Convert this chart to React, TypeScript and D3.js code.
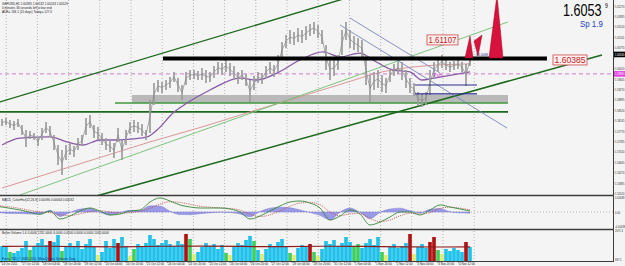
import { useEffect, useRef } from 'react';
import * as d3 from 'd3';

const W = 625;
const H = 266;
const FONT = '"Liberation Sans", Arial, sans-serif';

// GBPUSD H1 bars (one entry ~ 3 hours)
const priceHigh = [
  1.5821, 1.5824, 1.5817, 1.5813, 1.5821, 1.5799, 1.5781, 1.5777, 1.5770, 1.5756,
  1.5788, 1.5810, 1.5795, 1.5763, 1.5727, 1.5709, 1.5727, 1.5734, 1.5723, 1.5752,
  1.5763, 1.5824, 1.5835, 1.5799, 1.5792, 1.5770, 1.5752, 1.5745, 1.5734, 1.5788,
  1.5745, 1.5781, 1.5810, 1.5817, 1.5810, 1.5803, 1.5781, 1.5889, 1.5950, 1.5961,
  1.5954, 1.5961, 1.5972, 1.5990, 1.5968, 1.5943, 1.5990, 1.5997, 1.5997, 1.5993,
  1.6004, 1.5997, 1.5990, 1.6011, 1.6026, 1.6022, 1.6033, 1.6022, 1.6011, 1.5990,
  1.5997, 1.5983, 1.5961, 1.5975, 1.5990, 1.5986, 1.6011, 1.6026, 1.6015, 1.6051,
  1.6098, 1.6123, 1.6141, 1.6134, 1.6148, 1.6141, 1.6155, 1.6163, 1.6170, 1.6159,
  1.6141, 1.6087, 1.6040, 1.6033, 1.6051, 1.6141, 1.6170, 1.6141, 1.6119, 1.6112,
  1.6105, 1.6051, 1.5979, 1.5990, 1.5997, 1.5979, 1.5968, 1.6004, 1.6019, 1.6026,
  1.6026, 1.5997, 1.5968, 1.5950, 1.5918, 1.5911, 1.5918, 1.5997, 1.6026, 1.6040,
  1.6051, 1.6033, 1.6026, 1.6029, 1.6033, 1.6026, 1.6019, 1.6055,
];
const priceLow = [
  1.5795, 1.5799, 1.5788, 1.5781, 1.5792, 1.5763, 1.5720, 1.5749, 1.5745, 1.5723,
  1.5745, 1.5770, 1.5756, 1.5709, 1.5655, 1.5619, 1.5673, 1.5691, 1.5684, 1.5709,
  1.5723, 1.5763, 1.5788, 1.5752, 1.5745, 1.5727, 1.5709, 1.5702, 1.5680, 1.5738,
  1.5673, 1.5727, 1.5767, 1.5774, 1.5770, 1.5759, 1.5745, 1.5770, 1.5871, 1.5918,
  1.5914, 1.5925, 1.5932, 1.5954, 1.5918, 1.5889, 1.5943, 1.5961, 1.5965, 1.5961,
  1.5961, 1.5950, 1.5954, 1.5968, 1.5983, 1.5979, 1.5990, 1.5975, 1.5961, 1.5947,
  1.5961, 1.5939, 1.5882, 1.5925, 1.5950, 1.5947, 1.5968, 1.5983, 1.5972, 1.5990,
  1.6040, 1.6076, 1.6091, 1.6087, 1.6098, 1.6094, 1.6105, 1.6119, 1.6127, 1.6112,
  1.6091, 1.5997, 1.5961, 1.5975, 1.5997, 1.6051, 1.6105, 1.6076, 1.6069, 1.6062,
  1.6044, 1.5943, 1.5882, 1.5925, 1.5932, 1.5918, 1.5914, 1.5954, 1.5975, 1.5983,
  1.5961, 1.5932, 1.5914, 1.5903, 1.5867, 1.5864, 1.5871, 1.5907, 1.5968, 1.5990,
  1.6004, 1.5997, 1.5990, 1.5997, 1.6001, 1.5990, 1.5939, 1.6011,
];

const volume = [
  1312, 1264, 1027, 980, 1075, 1217, 1549, 1122, 1312, 1454,
  1644, 1359, 1549, 1502, 1834, 1075, 1312, 1454, 1264, 1549,
  1170, 1407, 1644, 1264, 885, 1027, 1549, 1217, 1644, 1454,
  1739, 1312, 837, 1170, 1407, 1264, 1454, 1834, 1644, 1359,
  1454, 1597, 1407, 1312, 1549, 1407, 1881, 1644, 932, 1027,
  1264, 1454, 1312, 1407, 1170, 1359, 980, 885, 1264, 1454,
  1359, 1597, 1787, 1549, 1122, 932, 1170, 1407, 1264, 1502,
  1644, 1312, 980, 885, 1217, 1359, 1264, 1407, 1027, 837,
  1170, 1549, 1407, 1597, 1312, 1454, 1739, 1502, 1312, 1407,
  1217, 1454, 1644, 1359, 1739, 1027, 885, 1264, 1407, 1217,
  1312, 1454, 1881, 932, 1264, 1407, 1217, 1502, 1739, 1122,
  932, 1170, 1075, 1217, 1122, 1027, 1502, 1264,
];
const volumeKind =
  'ccgccccgcc' + 'ccrccgcccc' + 'ccccyccccr' + 'ccygcccccc' + 'ccccccrgyc' +
  'ccccccgycc' + 'cccgcycccc' + 'ccgycccrgy' + 'ccccccccgg' + 'cccccgyccc' +
  'ccrycccrrg' + 'ycccccrc';
const volumeMaSlots = [0, 10, 20, 30, 40, 50, 60, 70, 80, 90, 100, 110, 117];
const volumeMa = [1290, 1300, 1280, 1270, 1300, 1310, 1290, 1280, 1300, 1290, 1270, 1265, 1270];

const macdMain = [
  0.00166, 0.00116, 0.00063, -0.00009, -0.00072, 0.00031, -0.00219, -0.00125, 0.00031, 0.00125,
  0.00031, -0.00094, -0.00063, 0.00031, 0.00063, 0.00313, 0.00438, 0.00344, 0.00219, 0.00156,
  0.00125, 0.00125, 0.00125, 0.00094, 0, -0.00219, -0.00125, 0.00031, 0.00188, 0.00313,
  0.00344, 0.00281, 0.00125, -0.0025, -0.00125, 0.00063, -0.00063, -0.00406, -0.00313, -0.00156,
  0, 0, -0.00094, 0.00063, 0.00219, 0.00156, 0.00094, 0.00031,
];
const macdSignal = [
  0.0019, 0.0016, 0.0011, 0.0005, 0.0, -0.0002, -0.0008, -0.0011, -0.0006, 0.0001,
  0.0004, 0.0, -0.0004, -0.0002, 0.0002, 0.0012, 0.0025, 0.0032, 0.003, 0.0024,
  0.0018, 0.0015, 0.0013, 0.0011, 0.0006, -0.0007, -0.0014, -0.0009, 0.0004, 0.0018,
  0.0028, 0.003, 0.0023, 0.0, -0.0012, -0.0006, -0.0005, -0.002, -0.003, -0.0025,
  -0.0012, -0.0004, -0.0006, -0.0002, 0.0011, 0.0015, 0.0012, 0.0007,
];

// moving averages as [slot, price]
const maSlow: [number, number][] = [
  [0, 1.5572], [12, 1.5626], [25, 1.5684], [37, 1.5738], [50, 1.5792], [62, 1.5846],
  [75, 1.5903], [85, 1.5947], [95, 1.599], [105, 1.6011], [117, 1.6019],
];
const maFast: [number, number][] = [
  [0, 1.5727], [4.5, 1.5752], [12, 1.5756], [16.25, 1.5738], [20.25, 1.5727], [24.5, 1.5745],
  [28.75, 1.5745], [32.75, 1.5749], [36.25, 1.5756], [38.75, 1.5781], [42.75, 1.5842],
  [46.25, 1.5878], [52, 1.5925], [59.5, 1.5968], [63.75, 1.5961], [68.75, 1.5986],
  [74.5, 1.6033], [80.25, 1.6062], [84.5, 1.6044], [89.5, 1.6058], [92.75, 1.6033],
  [97.75, 1.5997], [102, 1.599], [105, 1.5961], [108, 1.5968], [117, 1.599],
];

// drawn objects
const channelUpper: [number, number][] = [[-0.5, 1.5882], [90, 1.6273]];
const channelLower: [number, number][] = [[20, 1.5529], [150, 1.6051]];
const supportThin: [number, number][] = [[4.5, 1.5547], [126.5, 1.617]];
const trendBlueA: [number, number][] = [[84.5, 1.6159], [126.25, 1.5788]];
const trendBlueB: [number, number][] = [[87, 1.6184], [109.5, 1.5986]];
const zoneBand = { from: 32.5, to: 126.5, top: 1.5907, bottom: 1.5878 };
const zoneLine = { from: 28.25, to: 126.5, price: 1.5878 };
const supportLevel = { from: -0.5, to: 126.5, price: 1.5846 };
const resistLevel = { from: 40.25, to: 136.25, price: 1.60385 };
const pivotLevel = { from: -1, to: 153, price: 1.5983 };
const navyLevels = [1.5943, 1.5911];
const navyRange = [103.25, 118.75];
const fractalShapes: [number, number][][] = [
  [[115.75, 1.604], [117, 1.6119], [117.75, 1.604]],
  [[118, 1.6101], [120, 1.6123], [119, 1.6047]],
  [[121.75, 1.604], [123.75, 1.6267], [125.25, 1.604]],
];
const levelLabels = [
  { text: '1.61107', price: 1.61107, from: 106.25, to: 114 },
  { text: '1.60385', price: 1.60385, from: 137.75, to: 146.25 },
];

const bid = 1.6053;
const priceTicks = [
  1.6227, 1.61895, 1.6152, 1.61145, 1.6077, 1.60395, 1.6002, 1.59645, 1.5927, 1.58895,
  1.5852, 1.58145, 1.5777, 1.57395, 1.5702, 1.56645, 1.5627, 1.55895, 1.5552,
];
const macdTicks = [0.00438, 0, -0.00438];
const volumeTicks = [2071.3, 687.1];
const timeLabels = [
  '14 Oct 2011', '17 Oct 12:00', '18 Oct 04:00', '18 Oct 20:00', '19 Oct 12:00', '20 Oct 04:00',
  '20 Oct 20:00', '21 Oct 12:00', '24 Oct 04:00', '24 Oct 20:00', '25 Oct 12:00', '26 Oct 04:00',
  '26 Oct 20:00', '27 Oct 12:00', '28 Oct 04:00', '28 Oct 20:00', '31 Oct 12:00', '1 Nov 04:00',
  '1 Nov 20:00', '2 Nov 12:00', '3 Nov 04:00', '3 Nov 20:00', '4 Nov 12:00',
];
const infoLines = [
  'GBPUSD,H1  1.60385 1.60532 1.60163 1.60529',
  '0 minutes 36 seconds left to bar end',
  'ADR= 184.1  (20 days)  Today= 127.0',
];

const volumeColors: Record<string, string> = {
  c: '#1fc2ec', g: '#3fcf5c', y: '#e4ea70', r: '#b01212',
};

function addText(g: any, x: number, y: number, txt: string, size: number, fill: string,
  anchor = 'start', sx = 0.75) {
  return g.append('text')
    .attr('transform', `translate(${x},${y}) scale(${sx},1)`)
    .attr('font-size', size)
    .attr('font-family', FONT)
    .attr('fill', fill)
    .attr('text-anchor', anchor)
    .text(txt);
}

export default function App() {
  const ref = useRef<SVGSVGElement>(null);

  useEffect(() => {
    document.body.style.margin = '0';
    const svg = d3.select(ref.current);
    svg.selectAll('*').remove();

    const axisX = 613;
    const mainBottom = 195;

    const xs = d3.scaleLinear().domain([0, priceHigh.length - 1]).range([2, 470]);
    const xh = d3.scaleLinear().domain([0, 362]).range([1, 471.6]);
    const xm = d3.scaleLinear().domain([0, macdMain.length - 1]).range([0, 470]);
    const yP = d3.scaleLinear().domain([1.5547, 1.6249]).range([mainBottom, 0]);
    const yM = d3.scaleLinear().domain([-0.005, 0.005]).range([228, 196]);
    const yV = d3.scaleLinear().domain([600, 2071.3]).range([261, 230]);

    svg.append('rect').attr('width', W).attr('height', H).attr('fill', '#f4f4f4');

    // daily grid
    svg.append('g')
      .selectAll('line')
      .data(d3.range(4, 365, 24))
      .join('line')
      .attr('x1', d => xh(d)).attr('x2', d => xh(d))
      .attr('y1', 0).attr('y2', 261)
      .attr('stroke', '#9a9a9a')
      .attr('stroke-width', 0.7)
      .attr('stroke-dasharray', '1,2');

    svg.append('clipPath').attr('id', 'mainClip')
      .append('rect').attr('width', axisX).attr('height', mainBottom);
    const main = svg.append('g').attr('clip-path', 'url(#mainClip)');

    const seg = d3.line<[number, number]>().x(d => xs(d[0])).y(d => yP(d[1]));

    main.append('rect')
      .attr('x', xs(zoneBand.from)).attr('width', xs(zoneBand.to) - xs(zoneBand.from))
      .attr('y', yP(zoneBand.top)).attr('height', yP(zoneBand.bottom) - yP(zoneBand.top))
      .attr('fill', '#b9b9b9');

    const hline = (from: number, to: number, p: number, color: string, w: number, dash?: string) => {
      const l = main.append('line')
        .attr('x1', xs(from)).attr('x2', xs(to))
        .attr('y1', yP(p)).attr('y2', yP(p))
        .attr('stroke', color).attr('stroke-width', w);
      if (dash) l.attr('stroke-dasharray', dash);
    };

    hline(zoneLine.from, zoneLine.to, zoneLine.price, '#3f9a3f', 1.5);
    hline(supportLevel.from, supportLevel.to, supportLevel.price, '#1c6a1c', 1.8);
    hline(pivotLevel.from, pivotLevel.to, pivotLevel.price, '#d47ad4', 1, '4,3');

    const path = (pts: [number, number][], color: string, w: number, curve = d3.curveLinear) =>
      main.append('path')
        .datum(pts)
        .attr('d', seg.curve(curve)(pts))
        .attr('fill', 'none')
        .attr('stroke', color)
        .attr('stroke-width', w);

    path(maSlow, '#d98c8c', 0.9, d3.curveMonotoneX);
    path(supportThin, '#6fc06f', 0.9);
    path(channelUpper, '#1c6a1c', 1.4);
    path(channelLower, '#1c6a1c', 1.6);
    path(maFast, '#8a5aa8', 1.3, d3.curveMonotoneX);
    path(trendBlueA, '#6a78b8', 0.8);
    path(trendBlueB, '#6a78b8', 0.8);

    // price bars
    main.append('g')
      .selectAll('line')
      .data(priceHigh)
      .join('line')
      .attr('x1', (_, i) => xs(i)).attr('x2', (_, i) => xs(i))
      .attr('y1', d => yP(d))
      .attr('y2', (_, i) => yP(priceLow[i]))
      .attr('stroke', '#9c9c9c')
      .attr('stroke-width', 1.7);
    main.append('path')
      .attr('d', d3.line<number>()
        .x((_, i) => xs(i))
        .y((d, i) => yP((d + priceLow[i]) / 2))(priceHigh))
      .attr('fill', 'none')
      .attr('stroke', '#8a8a8a')
      .attr('stroke-width', 0.7);

    navyLevels.forEach(p => hline(navyRange[0], navyRange[1], p, '#2b2b8c', 1.2));
    hline(resistLevel.from, resistLevel.to, resistLevel.price, '#000000', 4);

    main.append('g')
      .selectAll('path')
      .data(fractalShapes)
      .join('path')
      .attr('d', d => seg.curve(d3.curveLinear)(d) + 'Z')
      .attr('fill', '#d8123c')
      .attr('stroke', '#a00020')
      .attr('stroke-width', 0.5);

    addText(main, xs(118.5), yP(resistLevel.price) - 2, 'S:1.6038', 4, '#22227a');
    addText(main, xs(108), yP(pivotLevel.price) + 3.5, 'Pivot', 5, '#d040d0');

    levelLabels.forEach(l => {
      const x0 = xs(l.from);
      const x1 = xs(l.to);
      const yc = yP(l.price) + 1.5;
      main.append('rect')
        .attr('x', x0).attr('y', yc - 5)
        .attr('width', x1 - x0).attr('height', 10)
        .attr('fill', '#fdf0f0').attr('stroke', '#d04848').attr('stroke-width', 0.8);
      main.append('text')
        .attr('x', (x0 + x1) / 2).attr('y', yc + 3.3)
        .attr('text-anchor', 'middle')
        .attr('font-size', 9.5).attr('font-family', FONT)
        .attr('fill', '#c62020')
        .attr('textLength', x1 - x0 - 3).attr('lengthAdjust', 'spacingAndGlyphs')
        .text(l.text);
    });

    // bid display
    addText(svg, 563, 15.5, bid.toFixed(4), 16, '#000', 'start', 0.79);
    addText(svg, 605, 8, '9', 6.5, '#000', 'start', 0.8);
    addText(svg, 580, 26.5, 'Sp 1.9', 8.5, '#1c3cc8', 'start', 0.93);

    infoLines.forEach((t, i) => addText(svg, 2, 4.5 + i * 4.4, t, 4.3, '#222', 'start', 0.72));

    // MACD panel
    svg.append('line')
      .attr('x1', 0).attr('x2', axisX).attr('y1', yM(0)).attr('y2', yM(0))
      .attr('stroke', '#9a9a9a').attr('stroke-width', 0.7).attr('stroke-dasharray', '1,2');
    const hist = macdMain.map((m, i) => m - macdSignal[i]);
    svg.append('path')
      .attr('d', d3.area<number>()
        .x((_, i) => xm(i)).y0(yM(0)).y1(d => yM(d))
        .curve(d3.curveMonotoneX)(hist))
      .attr('fill', '#9a9ae8').attr('stroke', '#7070c8').attr('stroke-width', 0.4);
    svg.append('path')
      .attr('d', d3.line<number>().x((_, i) => xm(i)).y(d => yM(d)).curve(d3.curveMonotoneX)(macdSignal))
      .attr('fill', 'none').attr('stroke', '#c05050').attr('stroke-width', 0.8)
      .attr('stroke-dasharray', '1.2,1');
    svg.append('path')
      .attr('d', d3.line<number>().x((_, i) => xm(i)).y(d => yM(d)).curve(d3.curveMonotoneX)(macdMain))
      .attr('fill', 'none').attr('stroke', '#3a8a3a').attr('stroke-width', 0.9);
    addText(svg, 2, 200.5, 'MACD_ColorHist(12,26,9) 0.00096 0.00064 0.00032', 4.3, '#222', 'start', 0.72);

    // volume panel
    svg.append('g')
      .selectAll('rect')
      .data(volume)
      .join('rect')
      .attr('x', (_, i) => xs(i) - 1.8)
      .attr('width', 3.6)
      .attr('y', d => yV(d))
      .attr('height', d => 261 - yV(d))
      .attr('fill', (_, i) => volumeColors[volumeKind[i]]);
    svg.append('path')
      .attr('d', d3.line<number>().x((_, i) => xs(volumeMaSlots[i])).y(d => yV(d))(volumeMa))
      .attr('fill', 'none').attr('stroke', '#8c1c1c').attr('stroke-width', 1.2);
    addText(svg, 2, 233.8,
      'Better Volume 1.4 0.0000 1231.0000 0.0000 0.0000 0.0000 0.0000 1040.0000', 4.3, '#222', 'start', 0.72);
    addText(svg, 2, 259.5, 'Forex-TSD, \u00a9 2005-2011, MetaQuotes Software Corp.', 4.3, '#1a237e', 'start', 0.72);

    // separators and axis
    [195.5, 229.5].forEach(y => svg.append('line')
      .attr('x1', 0).attr('x2', axisX).attr('y1', y).attr('y2', y)
      .attr('stroke', '#3c3c3c').attr('stroke-width', 1.5));
    svg.append('line').attr('x1', 0).attr('x2', axisX).attr('y1', 261.5).attr('y2', 261.5)
      .attr('stroke', '#3c3c3c').attr('stroke-width', 1);
    svg.append('line').attr('x1', axisX + 0.5).attr('x2', axisX + 0.5).attr('y1', 0).attr('y2', 262)
      .attr('stroke', '#3c3c3c').attr('stroke-width', 1);

    const lx = axisX + 2;
    const ls = 4.1;
    const lsx = 0.64;
    const yBid = yP(bid);
    priceTicks.forEach(p => {
      const y = yP(p);
      svg.append('line').attr('x1', axisX).attr('x2', axisX + 1.5).attr('y1', y).attr('y2', y)
        .attr('stroke', '#3c3c3c').attr('stroke-width', 0.6);
      if (Math.abs(y - yBid) < 5) return;
      addText(svg, lx, y + 1.5, p.toFixed(5), ls, '#333', 'start', lsx);
    });
    const tag = (y: number, txt: string, bg: string) => {
      svg.append('rect').attr('x', axisX + 1).attr('y', y - 2.8).attr('width', 11).attr('height', 5.6).attr('fill', bg);
      addText(svg, lx, y + 1.5, txt, ls, '#fff', 'start', lsx);
    };
    tag(yBid, bid.toFixed(5), '#000');
    tag(yP(pivotLevel.price), pivotLevel.price.toFixed(5), '#e040e0');

    macdTicks.forEach(v => {
      addText(svg, lx, yM(v) + 1.5, v === 0 ? '0.00' : v.toFixed(5), ls, '#333', 'start', lsx);
    });
    volumeTicks.forEach(v => {
      addText(svg, lx, yV(v) + 1.5, v.toFixed(1), ls, '#333', 'start', lsx);
    });

    timeLabels.forEach((t, i) => {
      const x = xh(i * 16);
      svg.append('line').attr('x1', x).attr('x2', x).attr('y1', 261).attr('y2', 263)
        .attr('stroke', '#3c3c3c').attr('stroke-width', 0.6);
      addText(svg, x + 0.5, 265.3, t, 4.1, '#222', 'start', 0.72);
    });
  }, []);

  return <svg ref={ref} width={W} height={H} style={{ display: 'block' }} />;
}
